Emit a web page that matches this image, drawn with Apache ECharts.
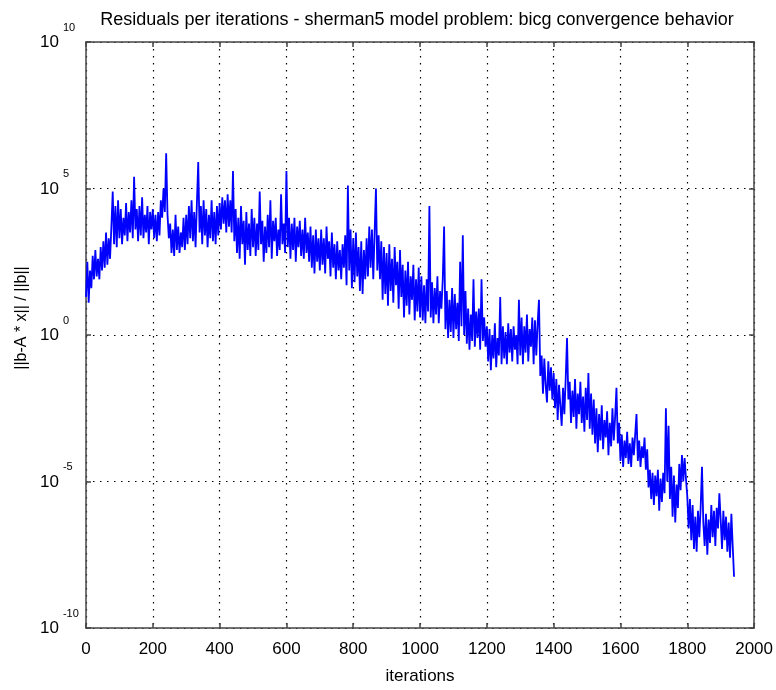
<!DOCTYPE html>
<html>
<head>
<meta charset="utf-8">
<script src="https://cdn.jsdelivr.net/npm/echarts@6/dist/echarts.min.js"></script>
<style>
  html, body { margin: 0; padding: 0; background: #fff; }
  #main { width: 776px; height: 690px; }
</style>
</head>
<body>
<div id="main"></div>
<script>
// residual ||b-A*x||/||b||, stored as log10, one value every 4 iterations
var iterStep = 4;
var logResidual = [
  // 0 - 96
  1.3, 2.5, 1.1, 2.2, 1.6, 2.7, 1.9, 2.9, 2.0, 2.6, 1.9, 3.0, 2.2, 3.2, 2.3, 3.5, 2.4, 3.3, 2.6, 3.7, 4.9, 3.1, 4.4, 3.0, 4.6,
  // 100 - 196
  3.3, 4.3, 3.1, 4.0, 3.4, 4.5, 3.2, 4.2, 3.5, 4.6, 3.3, 5.4, 3.6, 4.3, 3.2, 4.4, 3.4, 4.7, 3.3, 4.1, 3.5, 4.4, 3.1, 4.2, 3.6,
  // 200 - 296
  4.3, 3.3, 4.1, 3.2, 4.2, 3.4, 4.6, 4.0, 5.0, 4.2, 6.2, 4.1, 3.3, 3.8, 2.8, 3.6, 2.7, 4.1, 2.9, 3.7, 2.8, 3.5, 3.0, 4.0, 2.9,
  // 300 - 396
  4.1, 3.1, 4.4, 3.3, 4.6, 3.2, 4.2, 3.0, 4.5, 5.9, 3.5, 4.4, 3.1, 4.6, 3.4, 4.3, 3.0, 4.1, 3.3, 4.6, 3.2, 4.2, 3.1, 4.4, 3.4,
  // 400 - 496
  4.5, 3.6, 4.7, 3.8, 4.6, 3.5, 4.8, 3.7, 4.6, 3.5, 5.6, 3.2, 4.3, 2.8, 4.0, 2.6, 4.4, 3.1, 3.9, 2.4, 4.2, 2.9, 3.8, 2.7, 4.3,
  // 500 - 596
  3.0, 4.0, 2.7, 3.8, 2.9, 4.9, 3.1, 3.9, 2.5, 3.7, 2.8, 4.1, 3.0, 4.6, 2.6, 3.9, 3.2, 4.0, 2.7, 3.6, 2.9, 4.8, 3.1, 3.8, 2.8,
  // 600 - 696
  5.6, 3.0, 4.0, 2.6, 3.8, 2.9, 4.0, 2.5, 3.7, 3.0, 3.9, 2.7, 3.6, 2.6, 4.0, 2.8, 3.5, 2.5, 3.7, 2.3, 3.4, 2.1, 3.6, 2.5, 3.3,
  // 700 - 796
  2.2, 3.6, 2.4, 3.3, 2.1, 3.7, 2.6, 3.2, 2.0, 3.5, 2.3, 3.1, 1.9, 3.2, 2.2, 2.9, 1.9, 3.1, 2.3, 3.4, 1.7, 5.1, 2.2, 3.6, 1.6,
  // 800 - 896
  3.3, 1.8, 3.5, 2.0, 3.0, 1.5, 3.2, 1.4, 2.9, 1.9, 3.3, 2.0, 3.7, 2.3, 3.6, 1.9, 3.5, 5.0, 2.2, 3.4, 1.9, 3.2, 1.2, 3.0, 1.4,
  // 900 - 996
  2.8, 1.0, 3.1, 1.5, 2.6, 1.1, 3.0, 1.7, 2.5, 0.9, 2.9, 1.3, 2.4, 0.6, 2.2, 1.0, 2.5, 0.7, 2.0, 1.2, 2.4, 0.5, 1.9, 0.8, 2.3,
  // 1000 - 1096
  0.6, 2.0, 0.5, 1.7, 0.4, 1.9, 0.8, 4.4, 0.6, 1.8, 0.4, 1.6, 0.7, 2.0, 0.4, 1.5, 0.9, 1.9, 3.7, 0.2, 1.5, -0.1, 1.2, 0.1, 1.6,
  // 1100 - 1196
  -0.1, 1.4, 0.2, 1.1, -0.2, 2.5, 0.3, 3.4, 0.0, 1.5, -0.3, 0.9, -0.5, 0.7, -0.2, 1.9, -0.4, 0.8, -0.1, 0.9, -0.5, 1.9, -0.2, 0.6, -0.4,
  // 1200 - 1296
  0.3, -0.9, 0.2, -1.2, 0.0, -0.8, 0.4, -1.1, -0.1, -0.7, 1.3, -1.0, 0.3, -0.8, 0.1, -1.0, 0.4, -0.6, 0.2, -0.9, 0.3, -0.5, 0.0, -1.0, 1.2,
  // 1300 - 1396
  -0.7, 0.6, -1.0, 0.3, -0.6, 0.7, -0.9, 0.2, -0.4, 0.6, -1.0, 0.5, -0.7, 0.4, 1.2, -1.4, -0.7, -2.0, -0.8, -1.7, -2.3, -0.9, -1.9, -1.1, -2.2,
  // 1400 - 1496
  -1.3, -2.5, -1.5, -2.9, -1.7, -2.4, -3.1, -1.8, -2.7, -1.5, -0.1, -2.2, -1.6, -3.0, -1.9, -2.8, -1.5, -3.2, -2.0, -2.7, -1.6, -3.0, -2.1, -3.3, -1.8,
  // 1500 - 1596
  -2.9, -1.3, -3.2, -2.0, -3.4, -2.2, -3.7, -2.5, -4.0, -2.7, -3.6, -2.4, -3.9, -2.9, -3.5, -2.6, -4.1, -3.0, -3.8, -2.5, -3.6, -2.8, -1.8, -3.7, -3.0,
  // 1600 - 1696
  -4.3, -3.4, -4.5, -3.6, -4.2, -3.3, -4.4, -3.7, -4.5, -3.5, -4.1, -3.4, -2.7, -4.3, -3.6, -4.5, -3.8, -4.2, -3.5, -4.6, -3.9, -5.2, -4.6, -5.6, -4.7,
  // 1700 - 1796
  -5.8, -4.8, -5.5, -4.6, -6.0, -4.9, -5.7, -4.7, -5.4, -2.5, -5.0, -3.1, -5.6, -4.5, -6.2, -4.8, -6.4, -5.1, -5.9, -4.4, -5.3, -4.1, -5.0, -4.2, -4.9,
  // 1800 - 1896
  -5.5, -6.6, -5.6, -7.0, -5.8, -7.3, -6.2, -7.4, -6.0, -6.9, -5.9, -4.5, -6.4, -7.2, -6.1, -7.5, -6.3, -7.1, -5.8, -6.9, -6.0, -7.2, -5.9, -6.6, -5.4,
  // 1900 - 1940
  -6.3, -7.3, -6.0, -7.0, -6.2, -7.4, -6.4, -7.6, -6.1, -7.2, -8.25
];

var titleText = 'Residuals per iterations - sherman5 model problem: bicg convergence behavior';
var xName = 'iterations';
var yName = '||b-A * x|| / ||b||';

var font = 'Liberation Sans';

var chartDom = document.getElementById('main');
var myChart = echarts.init(chartDom, null, { renderer: 'canvas' });

var seriesData = logResidual.map(function (v, i) {
  return [i * iterStep, v];
});

var dotted = { color: '#000', width: 1.2, type: [1.5, 5.5] };
var frame = { show: true, onZero: false, lineStyle: { color: '#444', width: 1.5 } };
var tickIn = { show: true, inside: true, length: 5, lineStyle: { color: '#444', width: 1.5 } };

var option = {
  animation: false,
  backgroundColor: '#fff',
  title: {
    text: titleText,
    left: 412,
    top: 6,
    textAlign: 'center',
    textStyle: { fontFamily: font, fontSize: 18, fontWeight: 'normal', color: '#000' }
  },
  grid: { left: 86, right: 21, top: 42, bottom: 54 },
  xAxis: [
    {
      type: 'value',
      min: 0,
      max: 2000,
      interval: 200,
      name: xName,
      nameLocation: 'middle',
      nameGap: 40,
      nameTextStyle: { fontFamily: font, fontSize: 17, color: '#000' },
      axisLine: frame,
      axisTick: tickIn,
      axisLabel: {
        fontFamily: font, fontSize: 17, color: '#000', margin: 13,
        formatter: function (v) { return String(v); }
      },
      splitLine: { show: true, lineStyle: dotted }
    },
    {
      type: 'value',
      position: 'top',
      min: 0,
      max: 2000,
      interval: 200,
      axisLine: frame,
      axisTick: tickIn,
      axisLabel: { show: false },
      splitLine: { show: false }
    }
  ],
  yAxis: [
    {
      type: 'value',
      min: -10,
      max: 10,
      interval: 5,
      name: yName,
      nameLocation: 'middle',
      nameGap: 43,
      nameTextStyle: { fontFamily: font, fontSize: 16, color: '#000', padding: [0, 0, 0, 34] },
      axisLine: frame,
      axisTick: tickIn,
      axisLabel: {
        margin: 46,
        align: 'left',
        padding: [0, 0, 11, 0],
        formatter: function (v) {
          return '{b|10}{e|' + v + '}{s| }';
        },
        rich: {
          b: { fontFamily: font, fontSize: 17, color: '#000', lineHeight: 18, verticalAlign: 'bottom' },
          e: { fontFamily: font, fontSize: 11, color: '#000', lineHeight: 14, verticalAlign: 'top', padding: [0, 0, 0, 4] },
          s: { fontSize: 1, lineHeight: 29 }
        }
      },
      splitLine: { show: true, lineStyle: dotted }
    },
    {
      type: 'value',
      position: 'right',
      min: -10,
      max: 10,
      interval: 5,
      axisLine: frame,
      axisTick: tickIn,
      axisLabel: { show: false },
      splitLine: { show: false }
    }
  ],
  series: [
    {
      type: 'line',
      xAxisIndex: 0,
      yAxisIndex: 0,
      data: seriesData,
      showSymbol: false,
      symbol: 'none',
      sampling: null,
      lineStyle: { color: '#0000ff', width: 1.8, join: 'bevel' }
    }
  ]
};

option && myChart.setOption(option);
</script>
</body>
</html>
